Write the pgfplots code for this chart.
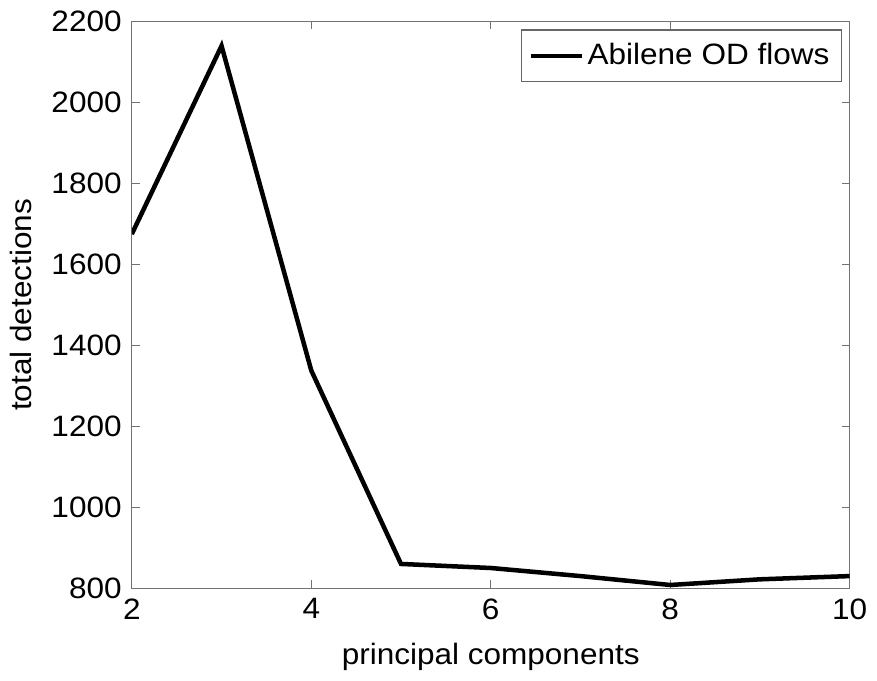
\documentclass[border=0pt]{standalone}
\usepackage{pgfplots}
\pgfplotsset{compat=1.18}
\usepackage{fontspec}
\setmainfont{Liberation Sans}[FakeStretch=1.07]
\begin{document}
\fontsize{15}{18}\selectfont
\begin{tikzpicture}
\begin{axis}[
 name=ax,
 scale only axis, width=365.5pt, height=288.5pt,
 xmin=2, xmax=10, ymin=800, ymax=2200,
 xtick={2,4,6,8,10}, ytick={800,1000,...,2200},
 tick align=inside, tick pos=both, major tick length=4pt,
 axis line style={black!55, line width=0.6pt},
 tick style={black!55, line width=0.6pt},
 /pgf/number format/assume math mode=true,
 /pgf/number format/set thousands separator={},
 xlabel={principal components}, ylabel={total detections},
 xlabel style={yshift=-2pt},
 legend style={at={(rel axis cs:1,1)}, anchor=north east, xshift=-4pt, yshift=-4pt, draw=black!60, line width=0.6pt, inner ysep=4.5pt, inner xsep=4pt, font=\fontsize{15}{18}\selectfont},
 legend cell align=left,
 legend image code/.code={\draw[line width=2.2pt] (0pt,0pt) -- (25.5pt,0pt);},
]
\addplot[black, line width=2.3pt] coordinates {(2,1675) (3,2140) (4,1338) (5,860) (6,850) (7,830) (8,808) (9,822) (10,830)};
\legend{Abilene OD flows}
\end{axis}
\path ([shift={(-64pt,-36.5pt)}]ax.south west) rectangle ([shift={(9pt,11pt)}]ax.north east);
\end{tikzpicture}
\end{document}
